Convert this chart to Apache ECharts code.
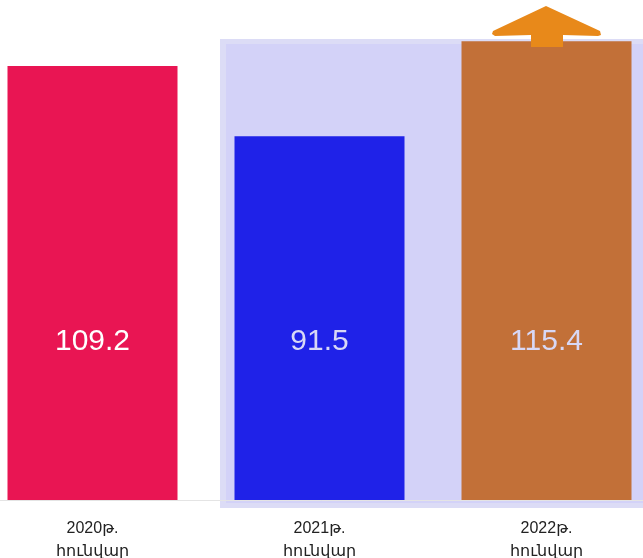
<!DOCTYPE html>
<html>
<head>
<meta charset="utf-8">
<script src="https://cdn.jsdelivr.net/npm/echarts@6/dist/echarts.min.js"></script>
<style>html,body{margin:0;padding:0;background:#fff}#c{width:643px;height:558px}</style>
</head>
<body>
<div id="c"></div>
<script>
var categories = ['2020թ.\nհունվար', '2021թ.\nհունվար', '2022թ.\nհունվար'];
var values = [109.2, 91.5, 115.4];
var barColors = ['#e91553', '#1f22e8', '#c27038'];
var labelColors = ['#ffffff', '#d8d8f6', '#d8d8f6'];

var chart = echarts.init(document.getElementById('c'));
var font = 'Liberation Sans, Arial, DejaVu Sans, sans-serif';
chart.setOption({
  animation: false,
  backgroundColor: '#ffffff',
  grid: {left: -21, width: 681, top: 23, bottom: 58, containLabel: false, outerBoundsMode: 'none'},
  xAxis: {
    type: 'category',
    data: categories,
    axisLine: {show: true, lineStyle: {color: '#e4e4e4', width: 1}},
    axisTick: {show: false},
    axisLabel: {color: '#222', fontSize: 16, fontFamily: font, lineHeight: 23, margin: 17}
  },
  yAxis: {
    type: 'value', min: 0, max: 120,
    show: false, splitLine: {show: false}
  },
  graphic: [
    {type: 'rect', z: 0, shape: {x: 220, y: 39, width: 430, height: 469},
     style: {fill: '#dcdcf6'}},
    {type: 'rect', z: 0, shape: {x: 226, y: 44, width: 420, height: 459},
     style: {fill: '#d3d2f8'}},
    {type: 'polygon', z: 100,
     shape: {points: [[546,6],[600,31],[601,35],[598,36],[563,35],[563,47],[531,47],[531,35],[495,36],[492,34],[493,31]]},
     style: {fill: '#e8891a'}}
  ],
  series: [{
    type: 'bar',
    z: 5,
    barWidth: 170,
    data: values.map(function (v, i) {
      return {
        value: v,
        itemStyle: {color: barColors[i]},
        label: {color: labelColors[i]}
      };
    }),
    label: {
      show: true,
      position: 'insideBottom',
      distance: 143,
      fontSize: 30,
      fontFamily: font,
      formatter: function (p) { return p.value.toFixed(1); }
    }
  }]
});
</script>
</body>
</html>
